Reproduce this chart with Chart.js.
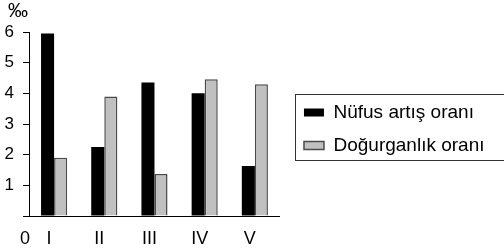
<!DOCTYPE html>
<html>
<head>
<meta charset="utf-8">
<script src="https://cdn.jsdelivr.net/npm/chart.js@4"></script>
<style>
  html, body { margin: 0; padding: 0; background: #fff; }
  #wrap { width: 504px; height: 252px; position: relative; }
</style>
</head>
<body>
<div id="wrap"><canvas id="c" width="504" height="252"></canvas></div>
<script>
const categories = ['I', 'II', 'III', 'IV', 'V'];
const nufusArtis = [5.95, 2.25, 4.35, 4.0, 1.63];
const dogurganlik = [1.9, 3.9, 1.37, 4.46, 4.3];
const seriesNames = ['Nüfus artış oranı', 'Doğurganlık oranı'];
const yTicks = [0, 1, 2, 3, 4, 5, 6];
const unitLabel = '‰';
const zeroLabel = '0';

const FONT = "'Liberation Sans', Arial, Helvetica, sans-serif";
Chart.defaults.color = '#000';
Chart.defaults.font.family = FONT;

const extras = {
  id: 'extras',
  afterDraw(chart) {
    const ctx = chart.ctx;
    ctx.save();
    ctx.fillStyle = '#000';
    ctx.font = '20px ' + FONT;
    ctx.textBaseline = 'middle';
    ctx.textAlign = 'left';
    ctx.fillText(unitLabel, 8, 11);
    ctx.font = '18px ' + FONT;
    ctx.textAlign = 'center';
    const ys = chart.scales.y;
    ctx.fillText(zeroLabel, ys.right - 4, ys.getPixelForValue(yTicks[0]) + 23);
    // legend frame
    const lg = chart.legend;
    if (lg && lg.legendHitBoxes && lg.legendHitBoxes.length) {
      const hb = lg.legendHitBoxes;
      const top = Math.round(hb[0].top - 9.5) + 0.5;
      const bottom = Math.round(hb[hb.length - 1].top + hb[hb.length - 1].height + 5) + 0.5;
      const left = Math.round(hb[0].left - 9) + 0.5;
      ctx.strokeStyle = '#333';
      ctx.lineWidth = 1;
      ctx.strokeRect(left, top, 600, bottom - top);
    }
    ctx.restore();
  }
};

new Chart(document.getElementById('c'), {
  type: 'bar',
  data: {
    labels: categories,
    datasets: [
      { label: seriesNames[0], data: nufusArtis, backgroundColor: '#000', borderColor: '#000', borderWidth: 0 },
      { label: seriesNames[1], data: dogurganlik, backgroundColor: '#c0c0c0', borderColor: '#4a4a4a', borderWidth: 1.5 }
    ]
  },
  options: {
    responsive: false,
    animation: false,
    devicePixelRatio: 1,
    layout: { padding: { top: 32, bottom: 0, left: 0, right: 9.5 } },
    datasets: { bar: { categoryPercentage: 0.52, barPercentage: 1.0 } },
    plugins: {
      tooltip: { enabled: false },
      title: { display: false },
      legend: {
        display: true,
        position: 'right',
        align: 'center',
        fullSize: false,
        maxWidth: 300,
        title: { display: true, text: '', padding: 0, font: { size: 10, lineHeight: 1 } },
        labels: {
          font: { size: 19, family: FONT },
          color: '#000',
          boxWidth: 20,
          boxHeight: 8,
          padding: 14
        }
      }
    },
    scales: {
      x: {
        grid: { display: false, drawTicks: false },
        border: { display: true, color: '#000', width: 1 },
        ticks: { font: { size: 18, family: FONT }, color: '#000', padding: 12, labelOffset: -5, maxRotation: 0, autoSkip: false },
        afterFit(s) { s.height = 36; }
      },
      y: {
        min: yTicks[0],
        max: yTicks[yTicks.length - 1],
        ticks: {
          stepSize: 1,
          font: { size: 17, family: FONT },
          color: '#000',
          padding: 9,
          callback: (v) => (v === yTicks[0] ? '' : String(v))
        },
        grid: { display: true, drawOnChartArea: false, drawTicks: true, tickLength: 6, color: '#000' },
        border: { display: true, color: '#000', width: 1 },
        afterFit(s) { s.width = 29; }
      },
      yR: {
        position: 'right',
        display: true,
        grid: { display: false, drawTicks: false },
        ticks: { display: false },
        border: { display: false },
        afterFit(s) { s.width = 10; }
      }
    }
  },
  plugins: [extras]
});
</script>
</body>
</html>
